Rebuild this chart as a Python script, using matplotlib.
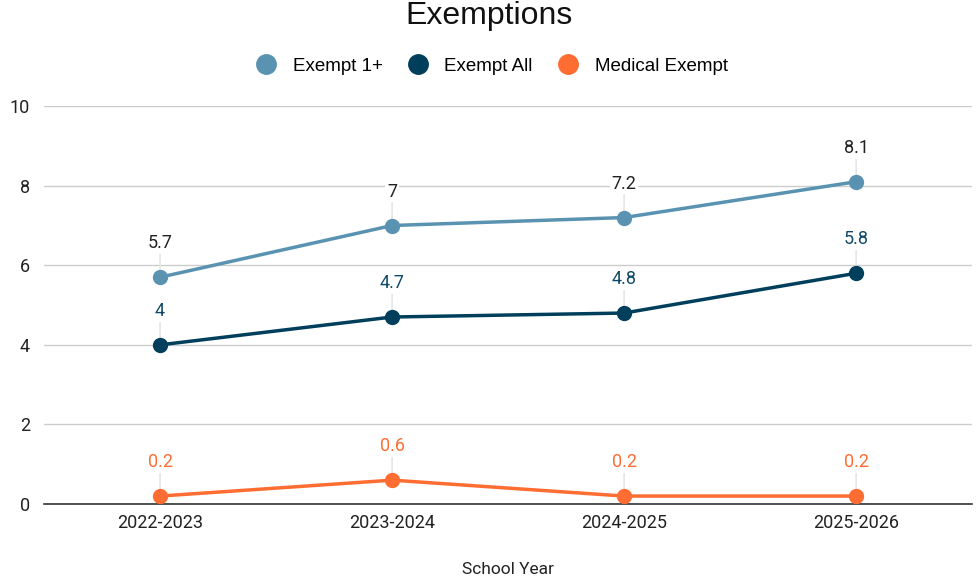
import matplotlib.pyplot as plt
from matplotlib.lines import Line2D

# data
years = ['2022-2023', '2023-2024', '2024-2025', '2025-2026']
exempt_1plus = [5.7, 7, 7.2, 8.1]
exempt_all = [4, 4.7, 4.8, 5.8]
medical = [0.2, 0.6, 0.2, 0.2]

series = [
    ('Exempt 1+', exempt_1plus, '#5a93b1', '#222222'),
    ('Exempt All', exempt_all, '#003f5c', '#0e4a68'),
    ('Medical Exempt', medical, '#ff6d33', '#ff6d33'),
]

plt.rcParams['font.family'] = ['Roboto', 'DejaVu Sans']

fig = plt.figure(figsize=(9.79, 5.8), dpi=100)
ax = fig.add_axes([0.045, 0.131, 0.948, 0.686])

x = list(range(len(years)))
for name, vals, col, lcol in series:
    ax.plot(x, vals, color=col, lw=2.5, marker='o', ms=10, zorder=3)
    for xi, v in zip(x, vals):
        # faint leader line from point to the label
        ax.annotate('', xy=(xi, v), xytext=(0, 20), textcoords='offset points',
                    xycoords='data',
                    arrowprops=dict(arrowstyle='-', color='#e6e6e6', lw=1.2,
                                    shrinkA=0, shrinkB=0), zorder=1)
        ax.annotate(str(v), (xi, v), xytext=(0, 18), textcoords='offset points',
                    ha='center', va='bottom', fontsize=13, color=lcol, zorder=4,
                    bbox=dict(boxstyle='square,pad=0.1', fc='white', ec='none'))

ax.set_xlim(-0.5, 3.5)
ax.set_ylim(0, 10)
ax.set_yticks([0, 2, 4, 6, 8, 10])
ax.set_xticks(x)
ax.set_xticklabels(years)
ax.tick_params(axis='both', length=0, labelsize=13, colors='#222222')
ax.tick_params(axis='y', pad=10)
ax.tick_params(axis='x', pad=7)
ax.grid(axis='y', color='#cccccc', lw=1)
ax.set_axisbelow(True)
for s in ['top', 'right', 'left']:
    ax.spines[s].set_visible(False)
ax.spines['bottom'].set_color('#333333')
ax.spines['bottom'].set_linewidth(1.2)

ax.set_xlabel('School Year', fontsize=12.5, color='#222222', labelpad=22)

fig.suptitle('Exemptions', y=0.998, fontsize=23, family='Liberation Sans', color='#111111')

handles = [Line2D([], [], ls='none', marker='o', ms=14, color=c) for _, _, c, _ in series]
fig.legend(handles, [s[0] for s in series], loc='center', bbox_to_anchor=(0.498, 0.886),
           ncol=3, frameon=False, prop={'family': 'Liberation Sans', 'size': 13.5},
           handletextpad=0.4, columnspacing=0.9)

fig.savefig('out.png', dpi=100)
